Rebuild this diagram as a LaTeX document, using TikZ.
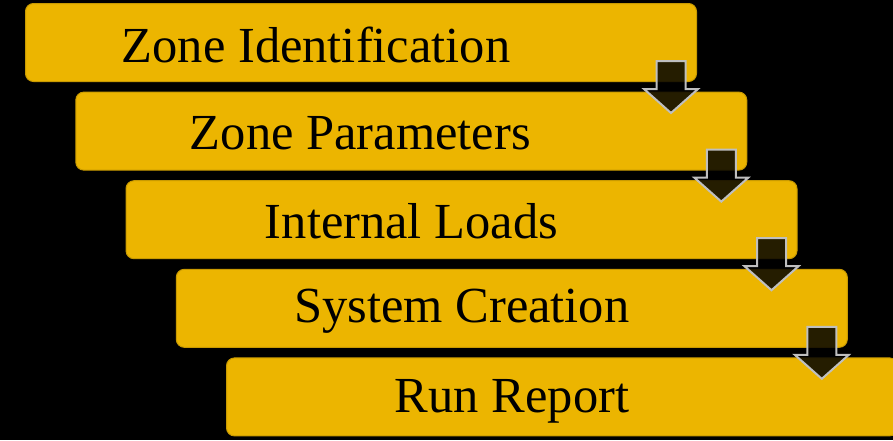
\documentclass[tikz,border=0pt]{standalone}
\usepackage{fontspec}
\setmainfont{Liberation Serif}
\usetikzlibrary{calc}
\definecolor{boxfill}{HTML}{ECB500}
\definecolor{boxline}{HTML}{C99A00}
\definecolor{arrowline}{HTML}{BFBFBF}
\tikzset{
  box/.style={draw=boxline, line width=1pt, fill=boxfill, rounded corners=8pt,
    minimum width=671pt, minimum height=78pt, inner sep=0pt, anchor=north west},
  lbl/.style={font=\fontsize{50.5}{54}\selectfont, text=black, inner sep=0pt},
  downarrow/.style={fill=black, fill opacity=0.84, draw=arrowline, line width=2pt, line join=miter}
}
\newcommand{\downarr}[1]{%
  \draw[downarrow] ($(#1)+(-14.5,-21)$) -- ($(#1)+(14.5,-21)$) -- ($(#1)+(14.5,7)$)
    -- ($(#1)+(27,7)$) -- ($(#1)+(0,31)$) -- ($(#1)+(-27,7)$) -- ($(#1)+(-14.5,7)$) -- cycle;}
\begin{document}
\begin{tikzpicture}[x=1pt,y=-1pt]
\fill[black] (0,0) rectangle (893,440);
\useasboundingbox (0,0) rectangle (893,440);
\node[box] (b1) at (25,3) {};
\node[box] (b2) at (75.3,91.6) {};
\node[box] (b3) at (125.5,180.2) {};
\node[box] (b4) at (175.8,268.8) {};
\node[box] (b5) at (226,357.4) {};
\node[lbl] (t1) at ([xshift=-45pt,yshift=-2pt]b1.center) {Zone Identification};
\node[lbl] (t2) at ([xshift=-51pt,yshift=-2pt]b2.center) {Zone Parameters};
\node[lbl] (t3) at ([xshift=-50pt,yshift=-2pt]b3.center) {Internal Loads};
\node[lbl] (t4) at ([xshift=-50pt,yshift=-3pt]b4.center) {System Creation};
\node[lbl] (t5) at ([xshift=-50pt,yshift=-4pt]b5.center) {Run Report};
\coordinate (a1) at ([xshift=-26pt]b1.south east);
\coordinate (a2) at ([xshift=-26pt]b2.south east);
\coordinate (a3) at ([xshift=-26pt]b3.south east);
\coordinate (a4) at ([xshift=-26pt]b4.south east);
\downarr{a1}
\downarr{a2}
\downarr{a3}
\downarr{a4}
\end{tikzpicture}
\end{document}
